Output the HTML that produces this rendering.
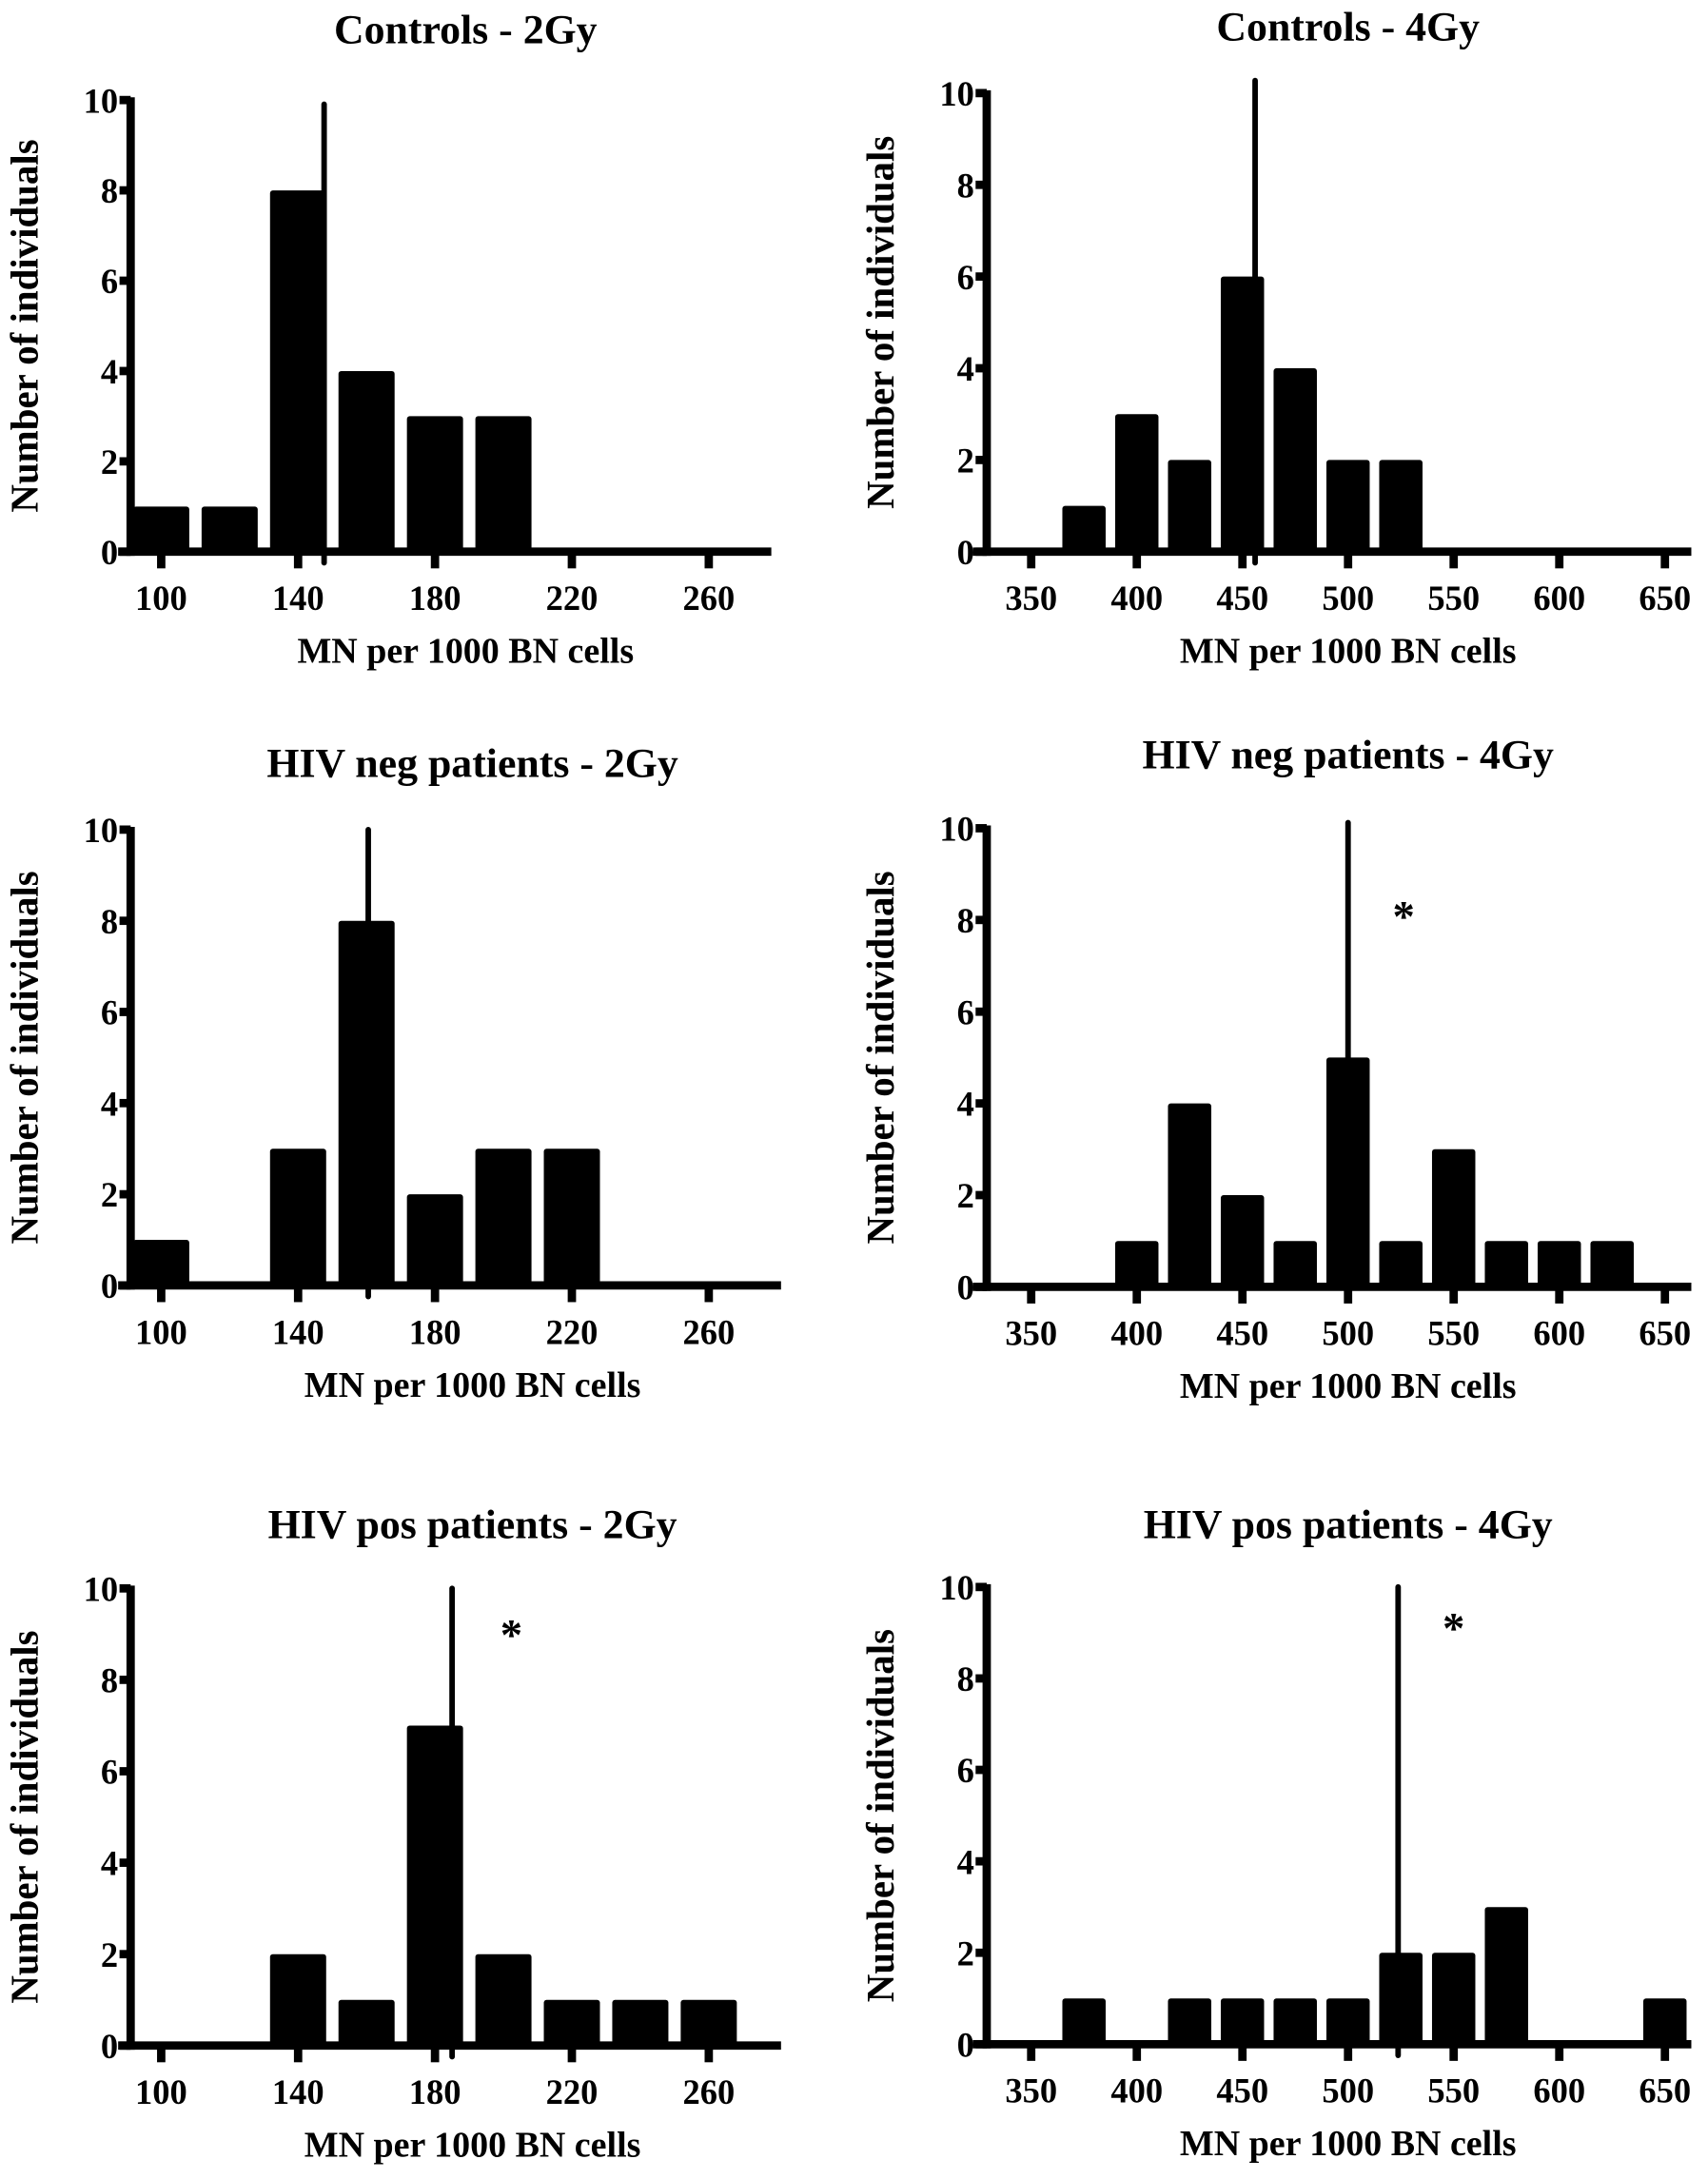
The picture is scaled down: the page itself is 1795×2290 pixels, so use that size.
<!DOCTYPE html>
<html><head><meta charset="utf-8"><style>
html,body{margin:0;padding:0;background:#fff}
svg{display:block}
text{font-family:"Liberation Serif",serif;font-weight:bold;fill:#000}
</style></head><body>
<svg id="fig" width="1795" height="2290" viewBox="0 0 1229 1568" preserveAspectRatio="none" xmlns="http://www.w3.org/2000/svg"></svg>
<script>
// ---- data ----
const binsLow = [100,120,140,160,180,200,220,240,260];
const ticksLow = [100,140,180,220,260];
const binsHigh = [350,375,400,425,450,475,500,525,550,575,600,625,650];
const ticksHigh = [350,400,450,500,550,600,650];
const yTicks = [0,2,4,6,8,10];
const ctrl2Counts = [1,1,8,4,3,3,0,0,0];
const ctrl4Counts = [0,1,3,2,6,4,2,2,0,0,0,0,0];
const neg2Counts = [1,0,3,8,2,3,3,0,0];
const neg4Counts = [0,0,1,4,2,1,5,1,3,1,1,1,0];
const pos2Counts = [0,0,2,1,7,2,1,1,1];
const pos4Counts = [0,1,0,1,1,1,1,2,2,3,0,0,1];
const medians = [147.6, 456, 160.5, 500, 185, 523.7];
const titles = ["Controls - 2Gy","Controls - 4Gy","HIV neg patients - 2Gy","HIV neg patients - 4Gy","HIV pos patients - 2Gy","HIV pos patients - 4Gy"];
const starFlags = [false,false,false,true,true,true];

const NS="http://www.w3.org/2000/svg";
const svg=document.getElementById('fig');
function mk(tag,attrs,parent){const e=document.createElementNS(NS,tag);for(const k in attrs)e.setAttribute(k,attrs[k]);(parent||svg).appendChild(e);return e;}

const panels=[
 {bins:binsLow,ticks:ticksLow,counts:ctrl2Counts,bw:20,ax:94,y0:397,y10:72,x0v:100,x0p:116,ppu:98.5/40,xmin:85,xmax:555,cx:335,ty:31,lineTop:75,star:null},
 {bins:binsHigh,ticks:ticksHigh,counts:ctrl4Counts,bw:25,ax:710,y0:397,y10:67,x0v:350,x0p:742,ppu:76/50,xmin:700,xmax:1217,cx:970,ty:29,lineTop:58,star:null},
 {bins:binsLow,ticks:ticksLow,counts:neg2Counts,bw:20,ax:94,y0:925,y10:597,x0v:100,x0p:116,ppu:98.5/40,xmin:85,xmax:562,cx:340,ty:559,lineTop:597,star:null},
 {bins:binsHigh,ticks:ticksHigh,counts:neg4Counts,bw:25,ax:710,y0:926,y10:596,x0v:350,x0p:742,ppu:76/50,xmin:700,xmax:1217,cx:970,ty:553,lineTop:592,star:[1010,658]},
 {bins:binsLow,ticks:ticksLow,counts:pos2Counts,bw:20,ax:94,y0:1472,y10:1143,x0v:100,x0p:116,ppu:98.5/40,xmin:85,xmax:562,cx:340,ty:1107,lineTop:1143,star:[368,1175]},
 {bins:binsHigh,ticks:ticksHigh,counts:pos4Counts,bw:25,ax:710,y0:1471,y10:1142,x0v:350,x0p:742,ppu:76/50,xmin:700,xmax:1217,cx:970,ty:1107,lineTop:1142,star:[1046,1170]}
];

panels.forEach((p,i)=>{
  const g=mk('g',{});
  
  
  const X=v=>p.x0p+(v-p.x0v)*p.ppu;
  const Y=c=>p.y0-(p.y0-p.y10)*c/10;
  const t=mk('text',{x:p.cx,y:p.ty,'text-anchor':'middle','font-size':30},g);t.textContent=titles[i];
  
  
  p.bins.forEach((b,j)=>{
    const c=p.counts[j];
    const w=p.bw*0.82*p.ppu;
    const h=Math.max(p.y0-Y(c),1);
    const r=mk('rect',{x:X(b)-w/2,y:p.y0-h,width:w,height:h,rx:2,fill:'#000'},g);
    
    
  });
  const ya=mk('line',{x1:p.ax,y1:p.y10-2,x2:p.ax,y2:p.y0+3,stroke:'#000','stroke-width':6},g);
  
  
  const xa=mk('line',{x1:p.xmin,y1:p.y0,x2:p.xmax,y2:p.y0,stroke:'#000','stroke-width':6},g);
  
  
  yTicks.forEach(v=>{
    mk('line',{x1:p.ax-8,y1:Y(v),x2:p.ax,y2:Y(v),stroke:'#000','stroke-width':6},g);
    const l=mk('text',{x:p.ax-9,y:Y(v)+9,'text-anchor':'end','font-size':25},g);l.textContent=v;
    
    
  });
  p.ticks.forEach(v=>{
    mk('line',{x1:X(v),y1:p.y0,x2:X(v),y2:p.y0+12,stroke:'#000','stroke-width':6},g);
    const l=mk('text',{x:X(v),y:p.y0+42,'text-anchor':'middle','font-size':25},g);l.textContent=v;
    
    
  });
  const m=mk('line',{x1:X(medians[i]),y1:p.lineTop,x2:X(medians[i]),y2:p.y0+8,stroke:'#000','stroke-width':4,'stroke-linecap':'round'},g);
  
  
  const xl=mk('text',{x:p.cx,y:p.y0+80,'text-anchor':'middle','font-size':26},g);xl.textContent='MN per 1000 BN cells';
  
  
  const ylx=p.ax-67, yly=(p.y0+p.y10)/2;
  const yl=mk('text',{x:ylx,y:yly,'text-anchor':'middle','font-size':28,transform:`rotate(-90 ${ylx} ${yly})`},g);yl.textContent='Number of individuals';
  
  
  if(starFlags[i]&&p.star){
    const s=mk('text',{x:p.star[0],y:p.star[1]+12,'text-anchor':'middle','font-size':32,'font-weight':'normal'},g);s.textContent='*';
    
    
  }
});
</script>
</body></html>
